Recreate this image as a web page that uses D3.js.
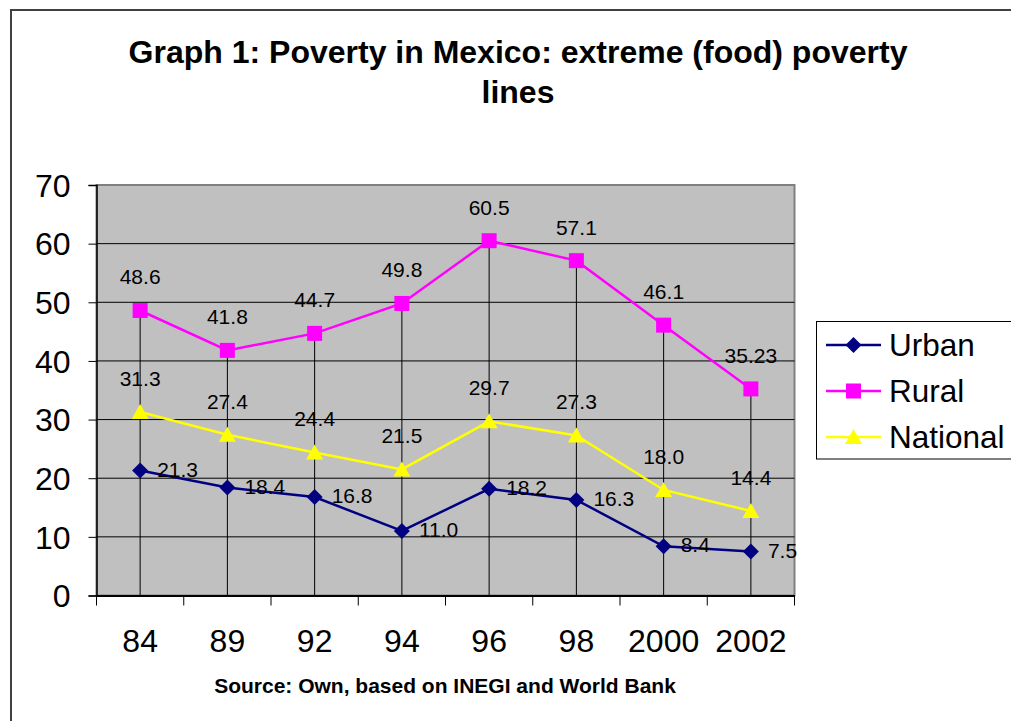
<!DOCTYPE html>
<html>
<head>
<meta charset="utf-8">
<script src="https://cdn.jsdelivr.net/npm/d3@7"></script>
<style>
html,body{margin:0;padding:0;background:#fff;}
svg{display:block;font-family:"Liberation Sans",Arial,sans-serif;}
</style>
</head>
<body>
<svg id="chart" width="1011" height="721"></svg>
<script>
const categories = ["84","89","92","94","96","98","2000","2002"];
const urban    = [21.3, 18.4, 16.8, 11.0, 18.2, 16.3, 8.4, 7.5];
const rural    = [48.6, 41.8, 44.7, 49.8, 60.5, 57.1, 46.1, 35.23];
const national = [31.3, 27.4, 24.4, 21.5, 29.7, 27.3, 18.0, 14.4];
const seriesNames = ["Urban","Rural","National"];
const yTicks = [0,10,20,30,40,50,60,70];
const titleLines = ["Graph 1: Poverty in Mexico: extreme (food) poverty","lines"];
const sourceText = "Source: Own, based on INEGI and World Bank";

const svg = d3.select("#chart");
const L = 96.5, R = 794.5, T = 185, B = 595.5;

// outer chart border
svg.append("rect").attr("x",11).attr("y",10).attr("width",1100).attr("height",900)
  .attr("fill","#fff").attr("stroke","#404040").attr("stroke-width",2);

// title
svg.append("text").attr("x",518).attr("y",63).attr("text-anchor","middle")
  .attr("font-size",32).attr("font-weight","bold").text(titleLines[0]);
svg.append("text").attr("x",518).attr("y",103).attr("text-anchor","middle")
  .attr("font-size",32).attr("font-weight","bold").text(titleLines[1]);

const x = d3.scaleBand().domain(categories).range([L,R]).padding(0);
const y = d3.scaleLinear().domain([0,70]).range([B,T]);
const cx = c => x(c) + x.bandwidth()/2;

// plot area
svg.append("rect").attr("x",L).attr("y",T).attr("width",R-L).attr("height",B-T)
  .attr("fill","#C0C0C0").attr("stroke","#808080").attr("stroke-width",2);

// horizontal grid lines
svg.append("g").selectAll("line").data(yTicks.filter(t=>t>0 && t<70)).join("line")
  .attr("x1",L).attr("x2",R).attr("y1",d=>y(d)).attr("y2",d=>y(d))
  .attr("stroke","#000").attr("stroke-width",1);

// drop lines
const maxVals = categories.map((c,i)=>Math.max(urban[i],rural[i],national[i]));
svg.append("g").selectAll("line").data(categories).join("line")
  .attr("x1",d=>cx(d)).attr("x2",d=>cx(d))
  .attr("y1",(d,i)=>y(maxVals[i])).attr("y2",B)
  .attr("stroke","#000").attr("stroke-width",1);

// y axis
const yAxis = d3.axisLeft(y).tickValues(yTicks).tickSize(8).tickPadding(18).tickFormat(d3.format("d"));
const gy = svg.append("g").attr("transform",`translate(${L},0)`).call(yAxis);
gy.select(".domain").attr("stroke","#000").attr("stroke-width",1.5);
gy.selectAll(".tick line").attr("stroke","#000");
gy.selectAll(".tick text").attr("font-size",32).attr("fill","#000")
  .attr("font-family","Liberation Sans, Arial, sans-serif").attr("dy","0.35em");

// x axis
const xAxis = d3.axisBottom(x).tickSize(0).tickPadding(0);
const gx = svg.append("g").attr("transform",`translate(0,${B})`).call(xAxis);
gx.select(".domain").attr("stroke","#000").attr("stroke-width",2);
gx.selectAll(".tick text").attr("font-size",32).attr("fill","#000")
  .attr("font-family","Liberation Sans, Arial, sans-serif").attr("y",56).attr("dy",0);
// category boundary ticks
const bounds = categories.map(c=>x(c)).concat([R]);
svg.append("g").selectAll("line").data(bounds).join("line")
  .attr("x1",d=>d).attr("x2",d=>d).attr("y1",B).attr("y2",B+10)
  .attr("stroke","#000").attr("stroke-width",1);

const colors = {Urban:"#000080", Rural:"#FF00FF", National:"#FFFF00"};
const data = {Urban:urban, Rural:rural, National:national};
const fmt = v => (Math.abs(Math.round(v*10)-v*10)<1e-9 ? v.toFixed(1) : String(v));

const line = d3.line().x((d,i)=>cx(categories[i])).y(d=>y(d));

function marker(g, name, px, py){
  const s = 14;
  if(name==="Urban"){
    g.append("path").attr("d",`M${px},${py-8}L${px+8},${py}L${px},${py+8}L${px-8},${py}Z`)
      .attr("fill",colors.Urban);
  } else if(name==="Rural"){
    g.append("rect").attr("x",px-7.5).attr("y",py-7.5).attr("width",15).attr("height",15)
      .attr("fill",colors.Rural);
  } else {
    g.append("path").attr("d",`M${px},${py-8}L${px+8.5},${py+7}L${px-8.5},${py+7}Z`)
      .attr("fill",colors.National);
  }
}

seriesNames.forEach(name=>{
  svg.append("path").datum(data[name]).attr("d",line)
    .attr("fill","none").attr("stroke",colors[name]).attr("stroke-width",2.5);
});
seriesNames.forEach(name=>{
  const g = svg.append("g");
  data[name].forEach((v,i)=>marker(g,name,cx(categories[i]),y(v)));
});
// labels
seriesNames.forEach(name=>{
  const g = svg.append("g");
  data[name].forEach((v,i)=>{
    const px = cx(categories[i]), py = y(v);
    const t = g.append("text").attr("font-size",21).attr("fill","#000").text(fmt(v));
    if(name==="Urban"){
      t.attr("x",px+17).attr("y",py+6);
    } else {
      t.attr("x",px).attr("y",py-26).attr("text-anchor","middle");
    }
  });
});

// legend
const lg = svg.append("g");
lg.append("rect").attr("x",816.5).attr("y",321.5).attr("width",300).attr("height",137.5)
  .attr("fill","#fff").attr("stroke","#000").attr("stroke-width",1);
const rowY = [345, 391, 437];
seriesNames.forEach((name,i)=>{
  lg.append("line").attr("x1",826).attr("x2",881).attr("y1",rowY[i]).attr("y2",rowY[i])
    .attr("stroke",colors[name]).attr("stroke-width",2.5);
  marker(lg,name,853.5,rowY[i]);
  lg.append("text").attr("x",889).attr("y",rowY[i]+11).attr("font-size",31.5).attr("fill","#000").text(name);
});

// source
svg.append("text").attr("x",445).attr("y",693).attr("text-anchor","middle")
  .attr("font-size",21).attr("font-weight","bold").text(sourceText);
</script>
</body>
</html>
